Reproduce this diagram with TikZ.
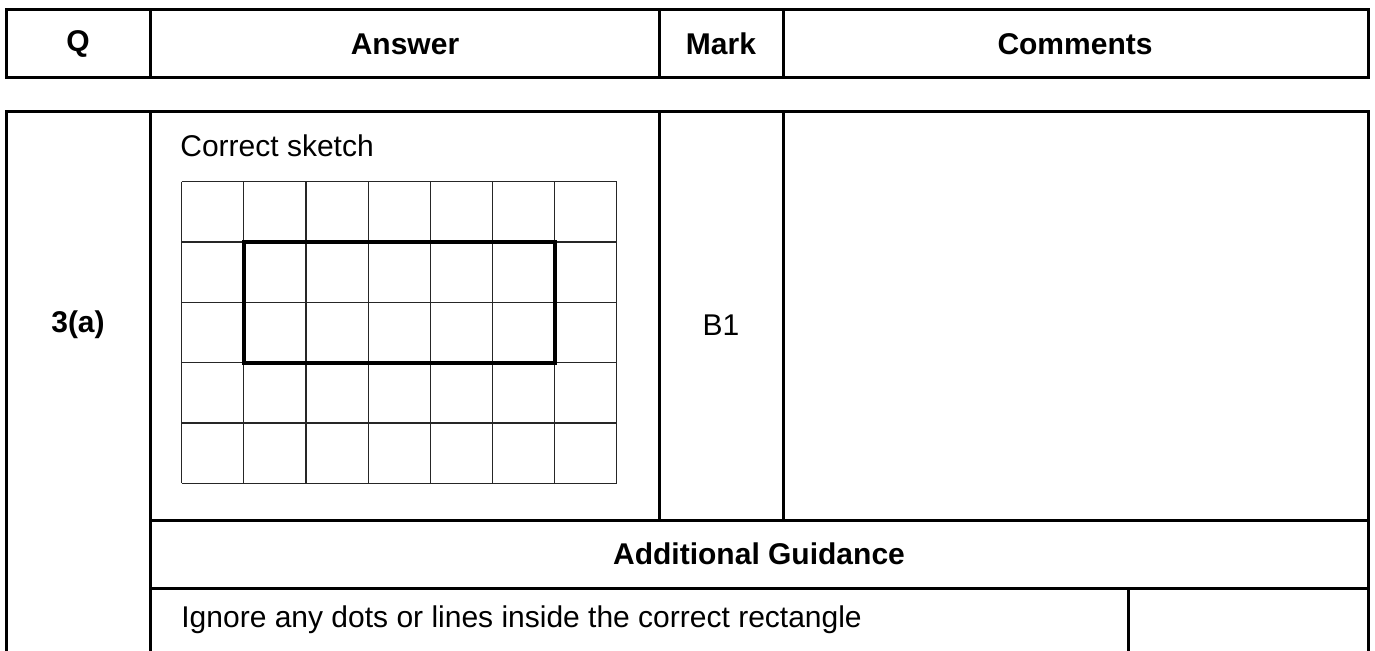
\documentclass[tikz,border=0pt]{standalone}
\usepackage{fontspec}
\setmainfont{Liberation Sans}
\begin{document}
\begin{tikzpicture}[x=0.5pt,y=-0.5pt,
  rule/.style={line width=1.5pt,line cap=rect},
  gridline/.style={line width=0.55pt,black!85},
  answerbox/.style={line width=2pt},
  txt/.style={inner sep=0pt,font=\fontsize{15}{18}\selectfont},
  head/.style={txt,font=\fontsize{15}{18}\selectfont\bfseries}]
\useasboundingbox (0,0) rectangle (1375,650);
% header table
\draw[rule] (6,9) rectangle (1368,77);
\draw[rule] (150,9) -- (150,77) (659,9) -- (659,77) (783,9) -- (783,77);
\node[head] (hq) at (78,44) {Q};
\node[head] (ha) at (405,44) {Answer};
\node[head] (hm) at (721,44) {Mark};
\node[head] (hc) at (1075,44) {Comments};
% main table
\draw[rule] (6,650) -- (6,111) -- (1368,111) -- (1368,650);
\draw[rule] (150,111) -- (150,650);
\draw[rule] (659,111) -- (659,520) (783,111) -- (783,520);
\draw[rule] (150,520) -- (1368,520) (150,588) -- (1368,588);
\draw[rule] (1128,588) -- (1128,650);
\node[head] (q) at (78,325) {3(a)};
\node[txt,anchor=west] (cs) at (180,146) {Correct sketch};
\node[txt] (b1) at (721,325) {B1};
\node[head] (ag) at (759,554) {Additional Guidance};
\node[txt,anchor=west] (ig) at (181,620) {Ignore any dots or lines inside the correct rectangle};
% grid
\foreach \i in {0,...,7} {
  \draw[gridline] ({181.7+\i*62.14},181.7) -- ({181.7+\i*62.14},483.3);
}
\foreach \j in {0,...,5} {
  \draw[gridline] (181.7,{181.7+\j*60.32}) -- (616.7,{181.7+\j*60.32});
}
\draw[answerbox] (243.84,242.0) rectangle (554.5,362.6);
\end{tikzpicture}
\end{document}
